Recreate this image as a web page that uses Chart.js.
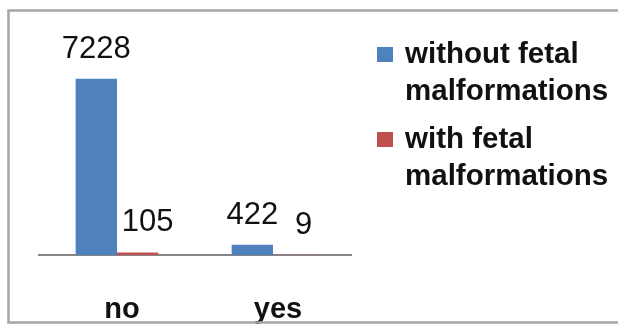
<!DOCTYPE html>
<html>
<head>
<meta charset="utf-8">
<style>
  html, body { margin: 0; padding: 0; background: #fff; }
  #wrap { width: 618px; height: 324px; position: relative; }
</style>
<script src="https://cdn.jsdelivr.net/npm/chart.js@4/dist/chart.umd.min.js"></script>
</head>
<body>
<div id="wrap"><canvas id="chart" width="618" height="324"></canvas></div>
<script>
const categories = ['no', 'yes'];
const seriesNames = ['without fetal malformations', 'with fetal malformations'];
const withoutMalformations = [7228, 422];
const withMalformations = [105, 9];
const seriesColors = ['#4F81BD', '#C0504D'];
const yMax = 8000;

// value labels above each bar
const valueLabels = {
    id: 'valueLabels',
    afterDatasetsDraw(chart) {
        const ctx = chart.ctx;
        ctx.save();
        ctx.font = '31px "Liberation Sans", Arial, sans-serif';
        ctx.fillStyle = '#111';
        ctx.textAlign = 'center';
        ctx.textBaseline = 'alphabetic';
        chart.data.datasets.forEach((ds, i) => {
            const shift = i === 1 ? 10 : 0; // excel nudges the small labels right
            chart.getDatasetMeta(i).data.forEach((bar, j) => {
                ctx.fillText(String(ds.data[j]), bar.x + shift, bar.y - 21);
            });
        });
        ctx.restore();
    }
};

// outer frame + wrapped legend on the right
const frameAndLegend = {
    id: 'frameAndLegend',
    afterDraw(chart) {
        const ctx = chart.ctx;
        ctx.save();
        ctx.strokeStyle = '#a6a6a6';
        ctx.lineWidth = 2.5;
        ctx.beginPath();
        ctx.moveTo(630, 10.5);
        ctx.lineTo(8.5, 10.5);
        ctx.lineTo(8.5, 322.5);
        ctx.lineTo(630, 322.5);
        ctx.stroke();

        ctx.font = 'bold 29.5px "Liberation Sans", Arial, sans-serif';
        ctx.textAlign = 'left';
        ctx.textBaseline = 'alphabetic';
        let y = 63;
        chart.data.datasets.forEach((ds) => {
            const words = ds.label.split(' ');
            const lines = [];
            let cur = '';
            words.forEach(w => {
                const test = cur ? cur + ' ' + w : w;
                if (cur && ctx.measureText(test).width > 205) {
                    lines.push(cur);
                    cur = w;
                } else {
                    cur = test;
                }
            });
            lines.push(cur);
            ctx.fillStyle = ds.backgroundColor;
            ctx.fillRect(377, y - 16, 16, 15);
            ctx.fillStyle = '#111';
            lines.forEach((ln, k) => ctx.fillText(ln, 405, y + k * 37));
            y += (lines.length - 1) * 37 + 48;
        });
        ctx.restore();
    }
};

new Chart(document.getElementById('chart'), {
    type: 'bar',
    data: {
        labels: categories,
        datasets: [
            { label: seriesNames[0], data: withoutMalformations, backgroundColor: seriesColors[0] },
            { label: seriesNames[1], data: withMalformations, backgroundColor: seriesColors[1] }
        ]
    },
    options: {
        responsive: false,
        animation: false,
        layout: { padding: { top: 60, left: 39, right: 267, bottom: 0 } },
        datasets: {
            bar: { categoryPercentage: 0.53, barPercentage: 1.0 }
        },
        plugins: {
            legend: { display: false },
            tooltip: { enabled: false }
        },
        scales: {
            x: {
                afterFit(scale) { scale.height = 69; },
                grid: { display: false, drawTicks: false },
                border: { display: true, color: '#868686', width: 2 },
                ticks: {
                    color: '#111',
                    padding: 40,
                    labelOffset: 5,
                    font: { family: '"Liberation Sans", Arial, sans-serif', size: 29, weight: 'bold', lineHeight: 1 }
                }
            },
            y: {
                display: false,
                min: 0,
                max: yMax
            }
        }
    },
    plugins: [valueLabels, frameAndLegend]
});
</script>
</body>
</html>
